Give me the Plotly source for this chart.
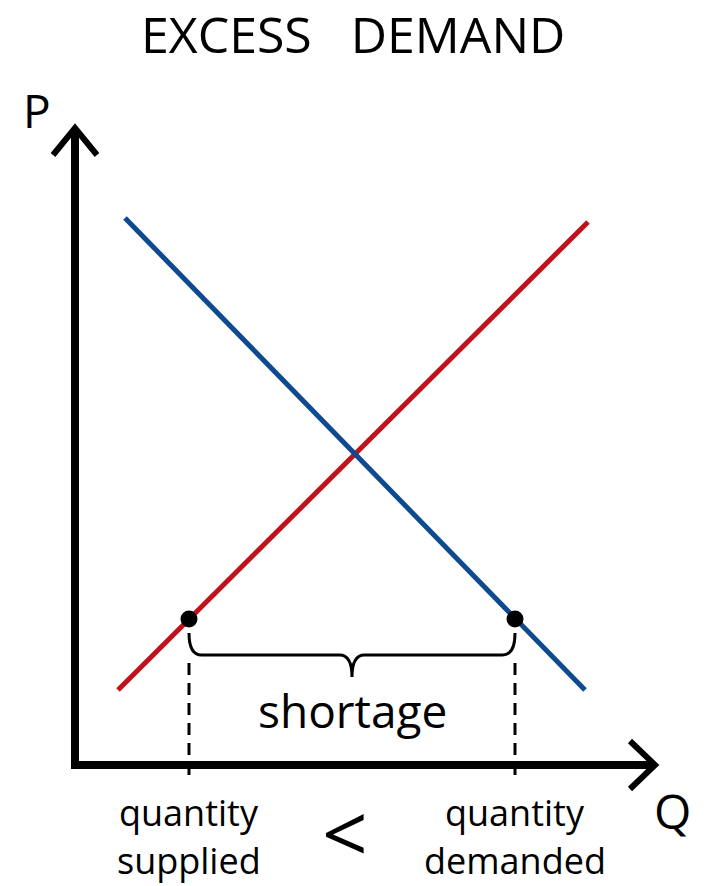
import plotly.graph_objects as go

# =========================
# データ（Q, P の単位）
# =========================
supply_q = [0.86, 10.26]
supply_p = [1.5, 10.86]

demand_q = [1.0, 10.2]
demand_p = [10.94, 1.5]

price_level = 2.92
qty_supplied = 2.28
qty_demanded = 8.8

axis_q_max = 11.6
axis_p_max = 12.74

# =========================
# カラー設定
# =========================
SUPPLY_COLOR = "#c1121c"
DEMAND_COLOR = "#0d4a8f"
INK = "#000000"
FONT = "Open Sans"

fig = go.Figure()

# 軸
fig.add_trace(go.Scatter(
    x=[axis_q_max, 0, 0], y=[0, 0, axis_p_max],
    mode="lines", line=dict(color=INK, width=8), hoverinfo="skip",
))
head = 0.5
fig.add_trace(go.Scatter(
    x=[-head * 0.88, 0, head * 0.88], y=[axis_p_max - head * 1.08, axis_p_max, axis_p_max - head * 1.08],
    mode="lines", line=dict(color=INK, width=6), hoverinfo="skip",
))
fig.add_trace(go.Scatter(
    x=[axis_q_max - head, axis_q_max, axis_q_max - head], y=[head * 0.96, 0, -head * 0.96],
    mode="lines", line=dict(color=INK, width=6), hoverinfo="skip",
))

# 供給・需要
fig.add_trace(go.Scatter(
    x=supply_q, y=supply_p, mode="lines",
    line=dict(color=SUPPLY_COLOR, width=5), hoverinfo="skip",
))
fig.add_trace(go.Scatter(
    x=demand_q, y=demand_p, mode="lines",
    line=dict(color=DEMAND_COLOR, width=5), hoverinfo="skip",
))

# 点線
for q in [qty_supplied, qty_demanded]:
    fig.add_trace(go.Scatter(
        x=[q, q], y=[price_level - 0.88, -0.26], mode="lines",
        line=dict(color=INK, width=3, dash="12px,8px"), hoverinfo="skip",
    ))

# 点
fig.add_trace(go.Scatter(
    x=[qty_supplied, qty_demanded], y=[price_level, price_level],
    mode="markers", marker=dict(color=INK, size=17), hoverinfo="skip",
))

# 波括弧
y_top = price_level - 0.28
y_mid = price_level - 0.72
y_tip = price_level - 1.16
r = 0.25
xc = (qty_supplied + qty_demanded) / 2
x1, x2 = qty_supplied, qty_demanded
brace = (
    f"M {x1},{y_top} Q {x1},{y_mid} {x1 + r},{y_mid} "
    f"L {xc - r},{y_mid} Q {xc},{y_mid} {xc},{y_tip} "
    f"Q {xc},{y_mid} {xc + r},{y_mid} "
    f"L {x2 - r},{y_mid} Q {x2},{y_mid} {x2},{y_top}"
)
fig.add_shape(type="path", path=brace, xref="x", yref="y",
              line=dict(color=INK, width=3))

# テキスト
def label(x, y, text, size):
    fig.add_annotation(
        x=x, y=y, text=text, showarrow=False, xref="x", yref="y",
        xanchor="center", yanchor="middle",
        font=dict(family=FONT, size=size, color=INK),
    )

label(5.55, 14.62, "EXCESS&nbsp;&nbsp;&nbsp;DEMAND", 50)
label(-0.76, 13.1, "P", 46)
label(11.94, -0.9, "Q", 48)
label(xc, 1.1, "shortage", 46)
label(qty_supplied, -0.95, "quantity", 36)
label(qty_supplied, -1.9, "supplied", 36)
label(qty_demanded, -0.95, "quantity", 36)
label(qty_demanded, -1.9, "demanded", 36)
label(5.4, -1.32, "&lt;", 80)

fig.update_layout(
    width=710, height=886,
    margin=dict(l=0, r=0, t=0, b=0),
    paper_bgcolor="#ffffff", plot_bgcolor="#ffffff",
    showlegend=False, hovermode=False,
    xaxis=dict(range=[-1.5, 12.7], visible=False, fixedrange=True),
    yaxis=dict(range=[-2.42, 15.3], visible=False, fixedrange=True),
)

# ページ余白をなくす
fig.write_html(
    "out.html",
    config={"displayModeBar": False},
    post_script="document.body.style.margin='0';document.body.style.overflow='hidden';",
)
